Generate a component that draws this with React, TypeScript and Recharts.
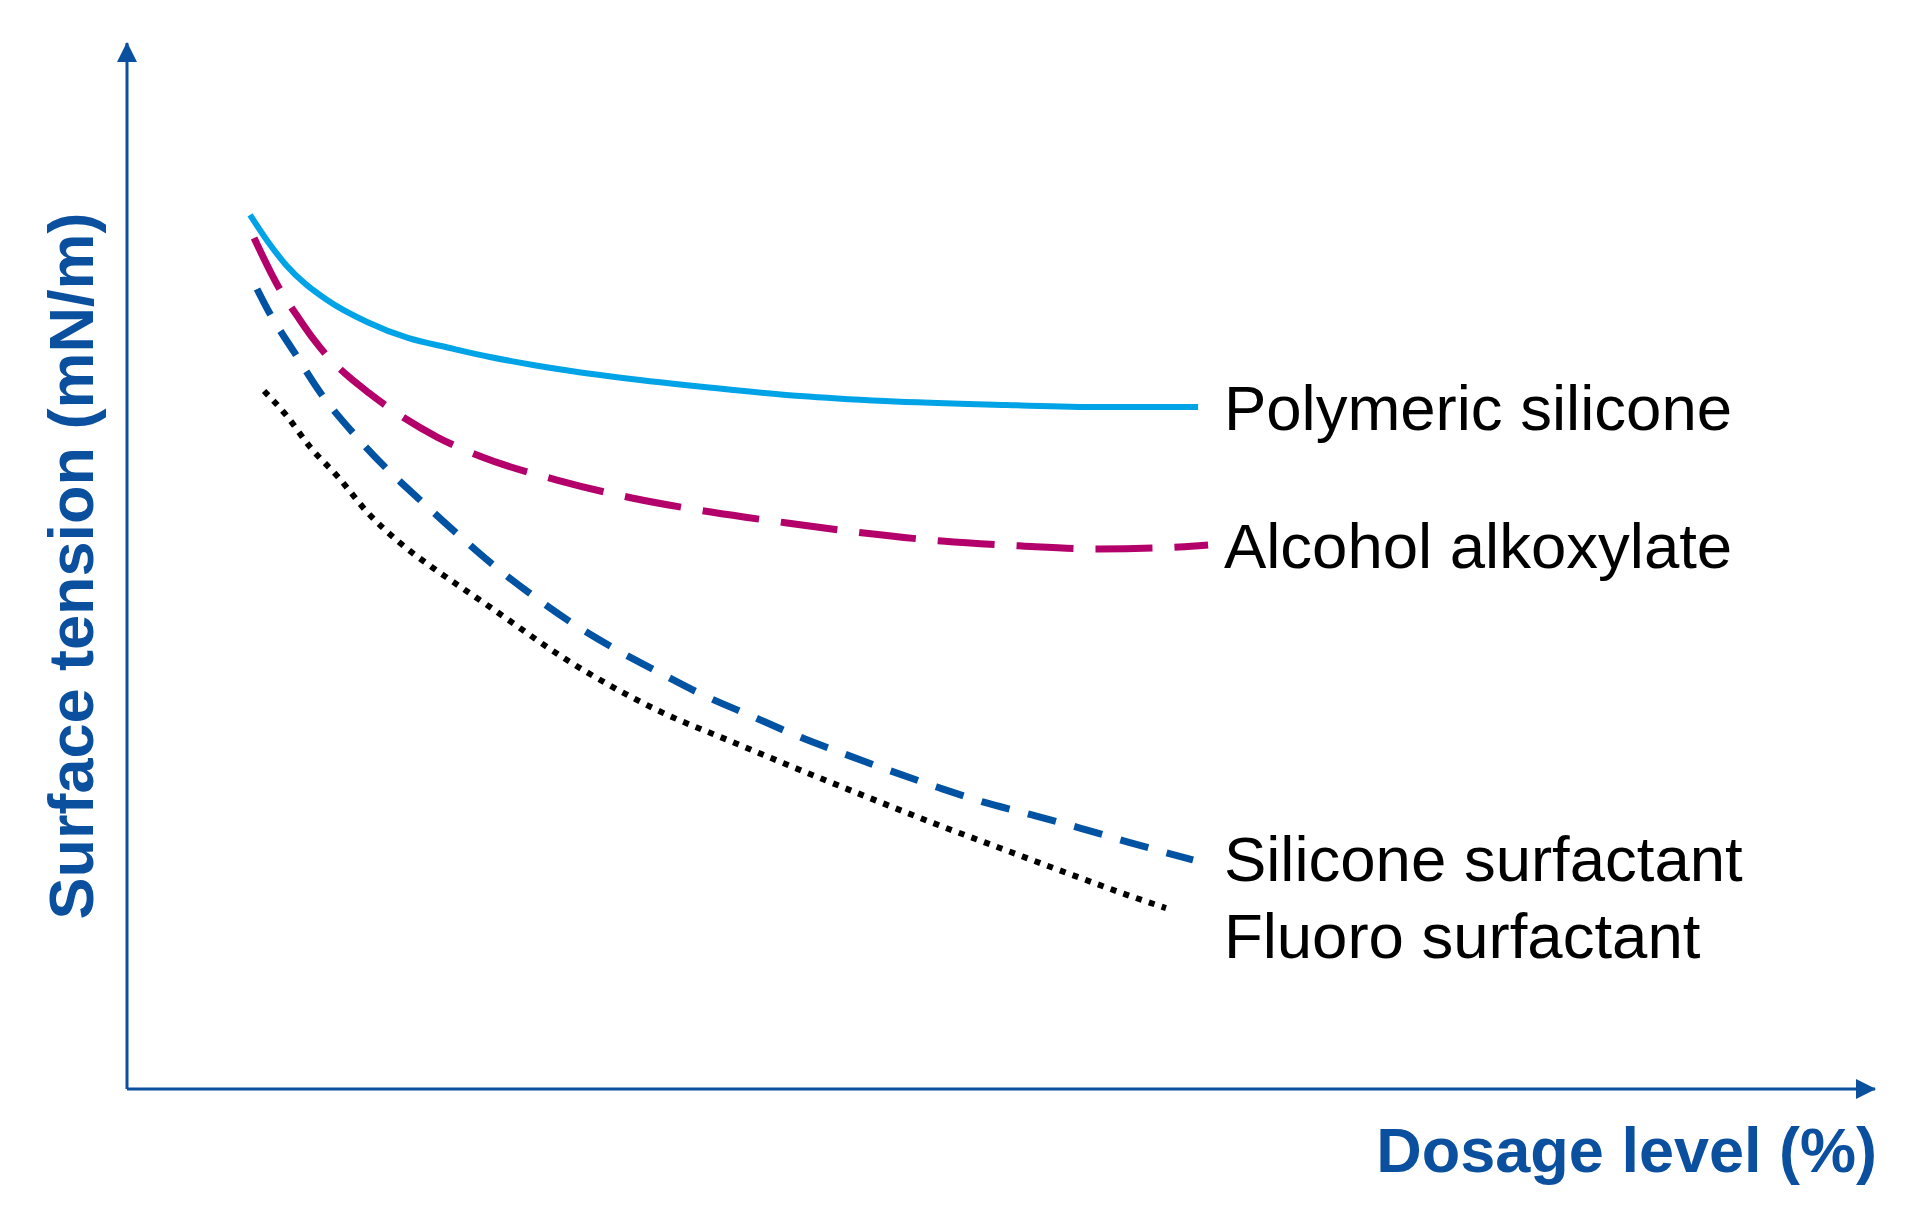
import { LineChart, Line, XAxis, YAxis, ReferenceDot } from "recharts";

const AXIS_BLUE = "#0b4f9f";
const FONT = "'Liberation Sans', Arial, Helvetica, sans-serif";

// dosage (x) vs surface tension (y), arbitrary units
const polymericSilicone = [
  { x: 7.01, y: 83.56 }, { x: 8.03, y: 81.0 }, { x: 9.06, y: 78.78 }, { x: 11.4, y: 75.43 },
  { x: 13.68, y: 73.33 }, { x: 16.01, y: 71.8 }, { x: 18.4, y: 70.84 }, { x: 20.68, y: 69.98 },
  { x: 23.13, y: 69.22 }, { x: 25.3, y: 68.64 }, { x: 29.23, y: 67.78 }, { x: 34.53, y: 66.83 },
  { x: 38.35, y: 66.25 }, { x: 43.19, y: 65.77 }, { x: 50.14, y: 65.39 }, { x: 55.44, y: 65.2 },
  { x: 61.03, y: 65.2 },
];

const alcoholAlkoxylate = [
  { x: 7.24, y: 81.36 }, { x: 8.21, y: 78.01 }, { x: 8.83, y: 76.1 }, { x: 9.74, y: 73.8 },
  { x: 10.66, y: 71.61 }, { x: 11.51, y: 69.89 }, { x: 12.65, y: 68.07 }, { x: 13.79, y: 66.54 },
  { x: 14.87, y: 65.2 }, { x: 17.67, y: 62.33 }, { x: 20.23, y: 60.42 }, { x: 24.5, y: 58.22 },
  { x: 28.77, y: 56.5 }, { x: 33.28, y: 55.16 }, { x: 37.61, y: 54.11 }, { x: 41.99, y: 53.15 },
  { x: 46.44, y: 52.39 }, { x: 51.0, y: 51.91 }, { x: 55.38, y: 51.63 }, { x: 59.94, y: 51.82 },
  { x: 61.6, y: 52.01 },
];

const siliconeSurfactant = [
  { x: 7.41, y: 76.48 }, { x: 8.09, y: 74.28 }, { x: 9.52, y: 70.46 }, { x: 11.11, y: 66.35 },
  { x: 12.99, y: 62.52 }, { x: 14.87, y: 59.18 }, { x: 16.7, y: 56.31 }, { x: 18.63, y: 53.35 },
  { x: 20.8, y: 50.19 }, { x: 23.08, y: 47.23 }, { x: 25.36, y: 44.55 }, { x: 27.81, y: 42.07 },
  { x: 30.26, y: 39.87 }, { x: 32.82, y: 37.67 }, { x: 35.44, y: 35.76 }, { x: 38.35, y: 33.65 },
  { x: 40.74, y: 32.12 }, { x: 43.36, y: 30.5 }, { x: 46.15, y: 28.87 }, { x: 48.77, y: 27.44 },
  { x: 51.57, y: 26.2 }, { x: 54.3, y: 24.95 }, { x: 57.04, y: 23.61 }, { x: 60.74, y: 21.89 },
];

const fluoroSurfactant = [
  { x: 7.81, y: 66.73 }, { x: 9.06, y: 64.44 }, { x: 10.43, y: 61.38 }, { x: 12.08, y: 58.41 },
  { x: 13.68, y: 55.16 }, { x: 15.56, y: 52.2 }, { x: 17.44, y: 49.81 }, { x: 19.26, y: 47.71 },
  { x: 20.68, y: 46.08 }, { x: 25.07, y: 41.01 }, { x: 30.2, y: 36.23 }, { x: 34.64, y: 33.08 },
  { x: 38.35, y: 30.5 }, { x: 42.17, y: 27.92 }, { x: 45.93, y: 25.43 }, { x: 49.74, y: 23.04 },
  { x: 53.56, y: 20.65 }, { x: 57.32, y: 18.36 }, { x: 59.2, y: 17.3 },
];

const seriesNames = ["Polymeric silicone", "Alcohol alkoxylate", "Silicone surfactant", "Fluoro surfactant"];
// where each name sits (left end of its baseline), in chart units
const labelX = [62.5, 62.5, 62.5, 62.5];
const labelY = [63.0, 49.81, 19.89, 12.52];

const xTitle = "Dosage level (%)";
const yTitle = "Surface tension (mN/m)";

const seriesLabel = (name: string) => (props: any) => {
  const { x, y } = props.viewBox;
  return (
    <text x={x} y={y} fill="#000" fontFamily={FONT} fontSize={63.5}>
      {name}
    </text>
  );
};

const xTitleLabel = (props: any) => {
  const vb = props.viewBox;
  return (
    <text x={vb.x + vb.width + 2} y={vb.y + 83} textAnchor="end" fill={AXIS_BLUE}
      fontFamily={FONT} fontWeight="bold" fontSize={63}>
      {xTitle}
    </text>
  );
};

const yTitleLabel = (props: any) => {
  const vb = props.viewBox;
  const cx = vb.x + vb.width - 34;
  const cy = vb.y + vb.height / 2;
  return (
    <text x={cx} y={cy} transform={`rotate(-90 ${cx} ${cy})`} textAnchor="middle" fill={AXIS_BLUE}
      fontFamily={FONT} fontWeight="bold" fontSize={63}>
      {yTitle}
    </text>
  );
};

export default function App() {
  return (
    <div style={{ position: "absolute", left: 0, top: 0, width: 1920, height: 1229, background: "#fff" }}>
      <svg width={0} height={0} style={{ position: "absolute" }}>
        <defs>
          <marker id="axisArrow" markerUnits="userSpaceOnUse" markerWidth={20} markerHeight={20}
            viewBox="0 0 20 20" refX={19} refY={10} orient="auto-start-reverse">
            <path d="M0,0 L20,10 L0,20 z" fill={AXIS_BLUE} />
          </marker>
        </defs>
      </svg>
      <LineChart width={1920} height={1229} margin={{ top: 43, right: 45, bottom: 0, left: 0 }}>
        <XAxis type="number" dataKey="x" domain={[0, 99.6]} allowDataOverflow height={140}
          tick={false} tickLine={false}
          axisLine={{ stroke: AXIS_BLUE, strokeWidth: 3, markerEnd: "url(#axisArrow)" }}
          label={xTitleLabel} />
        <YAxis type="number" domain={[0, 100]} allowDataOverflow width={127}
          tick={false} tickLine={false}
          axisLine={{ stroke: AXIS_BLUE, strokeWidth: 3, markerStart: "url(#axisArrow)" }}
          label={yTitleLabel} />
        <Line data={polymericSilicone} dataKey="y" name={seriesNames[0]} type="monotone"
          stroke="#00a3e6" strokeWidth={6} dot={false} activeDot={false} isAnimationActive={false} />
        <Line data={alcoholAlkoxylate} dataKey="y" name={seriesNames[1]} type="monotone"
          stroke="#b4006a" strokeWidth={7} strokeDasharray="57 22" dot={false} activeDot={false}
          isAnimationActive={false} />
        <Line data={siliconeSurfactant} dataKey="y" name={seriesNames[2]} type="monotone"
          stroke="#0052a3" strokeWidth={7} strokeDasharray="29 19" dot={false} activeDot={false}
          isAnimationActive={false} />
        <Line data={fluoroSurfactant} dataKey="y" name={seriesNames[3]} type="monotone"
          stroke="#000" strokeWidth={6} strokeDasharray="6 7.5" dot={false} activeDot={false}
          isAnimationActive={false} />
        {seriesNames.map((name, i) => (
          <ReferenceDot key={name} x={labelX[i]} y={labelY[i]} r={0} fill="none" stroke="none"
            ifOverflow="visible" label={seriesLabel(name)} />
        ))}
      </LineChart>
    </div>
  );
}
